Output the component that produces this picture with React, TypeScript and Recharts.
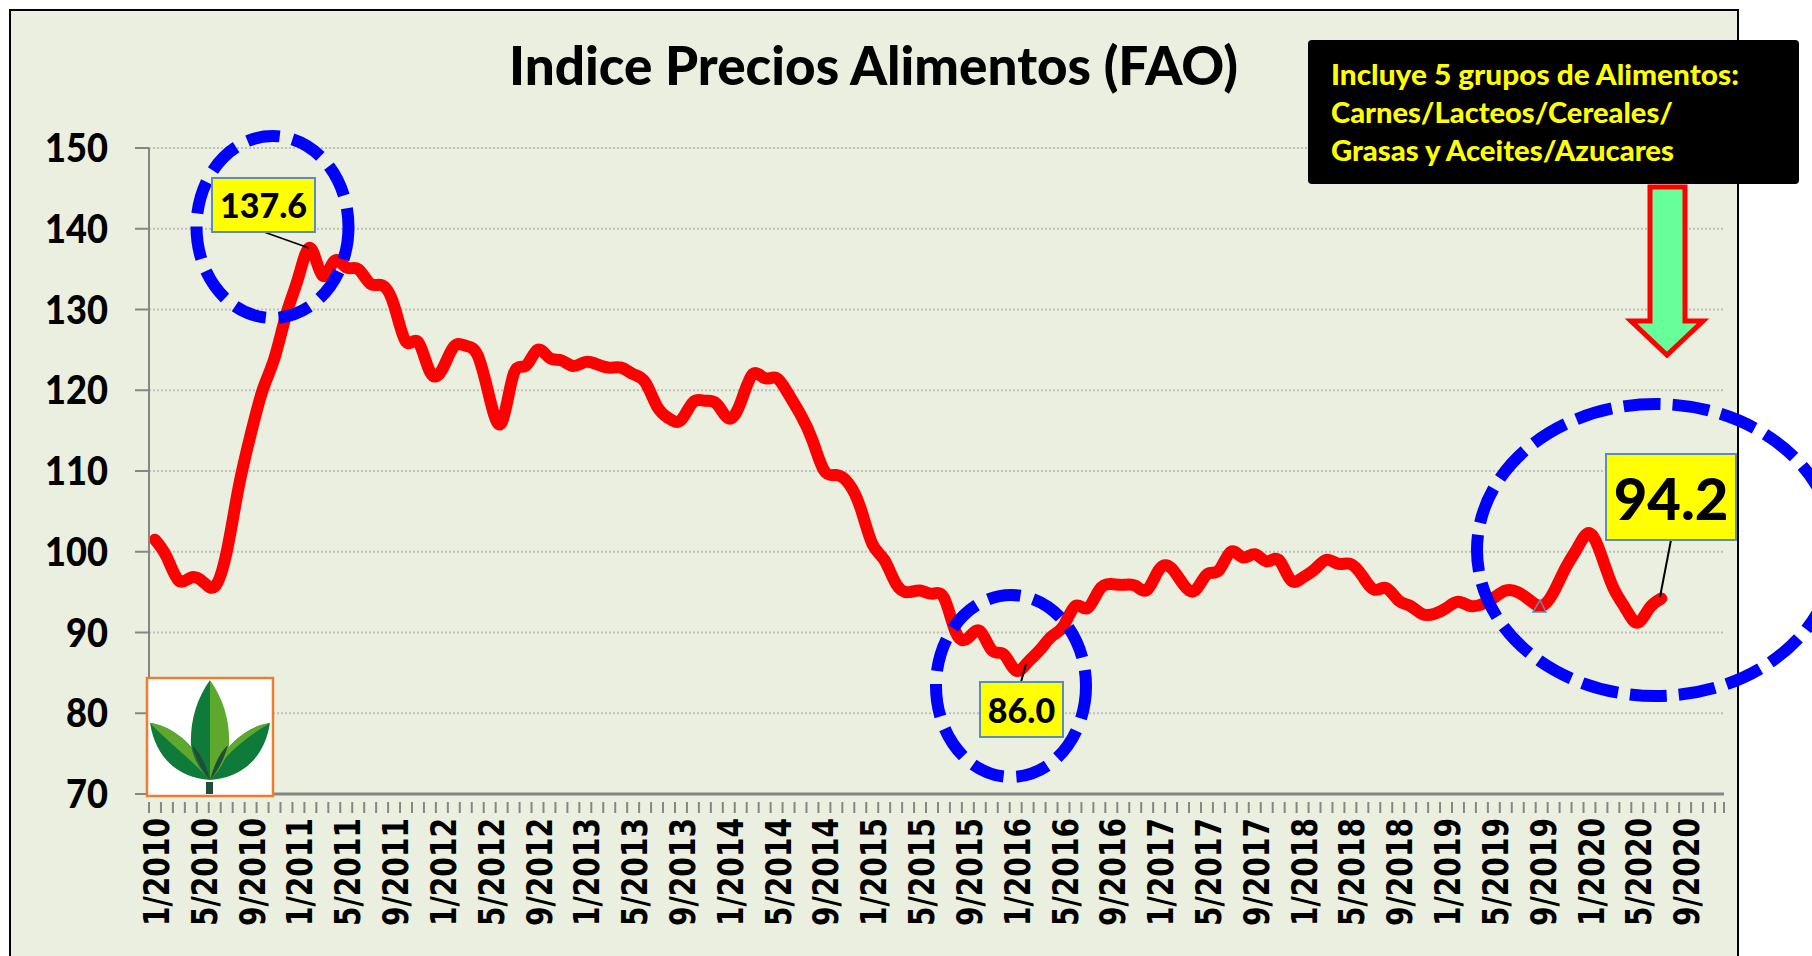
import { CartesianGrid, Line, LineChart, XAxis, YAxis } from "recharts";

const WIDTH = 1812;
const HEIGHT = 956;
const AXIS_GREY = "#868686";
const BLUE = "#0000FF";
const BOX_BORDER = "#5B8DB8";

const y2010 = [101.5, 99.3, 96.4, 96.8, 96.3, 95.7, 100, 108, 114.5, 120, 124, 129.5];
const y2011 = [134, 137.6, 134.2, 136, 135.2, 135, 133.2, 133, 130.5, 126, 126, 122.3];
const y2012 = [122.5, 125.4, 125.5, 124.3, 119, 116, 122, 123, 125, 124, 123.7, 123];
const y2013 = [123.5, 123.2, 122.8, 122.8, 122, 121, 118, 116.5, 116.3, 118.5, 118.7, 118.3];
const y2014 = [116.5, 118.5, 122, 121.5, 121.5, 119.5, 117, 113.8, 110, 109.5, 108.5, 105.5];
const y2015 = [101, 99, 96, 95, 95.2, 94.8, 94.3, 90, 89.3, 90.2, 87.8, 87.3];
const y2016 = [85.3, 86.3, 87.8, 89.5, 90.8, 93.3, 93, 95.3, 96, 95.9, 95.8, 95.3];
const y2017 = [97.8, 98, 96, 95.2, 97.2, 97.7, 100, 99.3, 99.7, 98.8, 99, 96.5];
const y2018 = [96.8, 97.8, 99, 98.5, 98.5, 97, 95.3, 95.5, 94, 93.3, 92.3, 92.3];
const y2019 = [93, 93.8, 93.3, 93.5, 94.3, 95.2, 95, 94, 93.3, 95, 98, 100.5];
const y2020 = [102.3, 99.5, 95.5, 93, 91.2, 93, 94.2];

const years = [2010, 2011, 2012, 2013, 2014, 2015, 2016, 2017, 2018, 2019, 2020];
const months = [1, 2, 3, 4, 5, 6, 7, 8, 9, 10, 11, 12];
const yTicks = [70, 80, 90, 100, 110, 120, 130, 140, 150];
const index = [...y2010, ...y2011, ...y2012, ...y2013, ...y2014, ...y2015, ...y2016, ...y2017, ...y2018, ...y2019, ...y2020];

// the axis runs on to the end of 2020, past the last value
const categories = years.flatMap((y) => months.map((m) => `${m}/${y}`));
const chartData = categories.map((date, i) => ({ date, index: i < index.length ? index[i] : null }));

function MonthTick({ x, y, payload, index: i }: any) {
  return (
    <g>
      <line x1={x - 6} x2={x - 6} y1={y} y2={y + 11} stroke={AXIS_GREY} strokeWidth={2} />
      {i === categories.length - 1 && (
        <line x1={x + 3} x2={x + 3} y1={y} y2={y + 11} stroke={AXIS_GREY} strokeWidth={2} />
      )}
      {i % 4 === 0 && i < 130 && (
        <text
          transform={`translate(${x + 14} 818) rotate(-90)`}
          textAnchor="end"
          fontFamily="DejaVu Sans"
          fontWeight={700}
          fontSize={36}
          textLength={108}
          lengthAdjust="spacingAndGlyphs"
          fill="#000"
        >
          {payload.value}
        </text>
      )}
    </g>
  );
}

function ValueTick({ x, y, payload }: any) {
  const label = String(payload.value);
  return (
    <text
      x={x}
      y={y + 14}
      textAnchor="end"
      fontFamily="Lato"
      fontWeight={900}
      fontSize={39}
      textLength={label.length * 21}
      lengthAdjust="spacingAndGlyphs"
      fill="#000"
    >
      {label}
    </text>
  );
}

function ValueBox({ x, y, w, h, label, size }: { x: number; y: number; w: number; h: number; label: string; size: number }) {
  return (
    <g>
      <rect x={x} y={y} width={w} height={h} fill="#FFFF00" stroke={BOX_BORDER} strokeWidth={2} />
      <text
        x={x + w / 2}
        y={y + h / 2 + size * 0.39}
        textAnchor="middle"
        fontFamily="Lato"
        fontWeight={900}
        fontSize={size}
        fill="#000"
      >
        {label}
      </text>
    </g>
  );
}

function Logo() {
  return (
    <g>
      <rect x={147} y={678} width={126} height={118} fill="#fff" stroke="#ED7D31" strokeWidth={2.5} />
      <path d="M150 723 C172 726 198 745 210 780 C180 778 156 760 150 723 Z" fill="#0F7B3A" />
      <path d="M150 723 C172 726 198 745 210 780 C192 760 168 742 150 723 Z" fill="#5FA82E" />
      <path d="M270 723 C248 726 222 745 210 780 C240 778 264 760 270 723 Z" fill="#0F7B3A" />
      <path d="M270 723 C248 726 222 745 210 780 C222 755 250 735 270 723 Z" fill="#5FA82E" />
      <path d="M210 680 C196 700 190 722 191 745 C193 760 202 772 210 780 Z" fill="#0F7B3A" />
      <path d="M210 680 C224 700 230 722 229 745 C227 760 218 772 210 780 Z" fill="#5FA82E" />
      <path d="M192 745 C196 760 203 772 210 780 C206 765 200 752 192 745 Z" fill="#1F4D38" />
      <path d="M228 745 C224 760 217 772 210 780 C214 765 220 752 228 745 Z" fill="#1F4D38" />
      <rect x={206} y={782} width={7} height={12} fill="#1F4D38" />
    </g>
  );
}

function Annotations() {
  return (
    <svg width={WIDTH} height={HEIGHT} style={{ position: "absolute", left: 0, top: 0 }}>
      <text x={509} y={85} fontFamily="Lato" fontWeight={900} fontSize={53} textLength={729} lengthAdjust="spacingAndGlyphs" fill="#000">
        Indice Precios Alimentos (FAO)
      </text>

      <Logo />

      <ellipse cx={272.5} cy={227} rx={76} ry={91} fill="none" stroke={BLUE} strokeWidth={12} strokeDasharray="33 13" />
      <ellipse cx={1011} cy={686} rx={75} ry={91} fill="none" stroke={BLUE} strokeWidth={12} strokeDasharray="33 13" />
      <ellipse cx={1656} cy={550} rx={179} ry={146} fill="none" stroke={BLUE} strokeWidth={12} strokeDasharray="37 12" />

      <line x1={264} y1={232} x2={309} y2={248} stroke="#000" strokeWidth={1.5} />
      <line x1={1026} y1={664} x2={1021} y2={682} stroke="#000" strokeWidth={2} />
      <line x1={1671} y1={540} x2={1660} y2={597} stroke="#000" strokeWidth={2} />

      <ValueBox x={212} y={178} w={103} h={54} label="137.6" size={34} />
      <ValueBox x={980} y={682} w={83} h={55} label="86.0" size={34} />
      <ValueBox x={1606} y={454} w={130} h={86} label="94.2" size={58} />

      <path d="M1540 600 L1546 612 L1533 612 Z" fill="#FF0000" stroke={BOX_BORDER} strokeWidth={1.5} />

      <rect x={1308} y={40} width={491} height={144} rx={4} fill="#000" />
      <g fontFamily="Lato" fontWeight={900} fontSize={28} fill="#FFFF00">
        <text x={1331} y={85} textLength={408} lengthAdjust="spacingAndGlyphs">Incluye 5 grupos de Alimentos:</text>
        <text x={1331} y={123} textLength={342} lengthAdjust="spacingAndGlyphs">Carnes/Lacteos/Cereales/</text>
        <text x={1331} y={161} textLength={343} lengthAdjust="spacingAndGlyphs">Grasas y Aceites/Azucares</text>
      </g>

      <path
        d="M1650 187 L1685 187 L1685 321 L1703 321 L1667 355 L1631 321 L1650 321 Z"
        fill="#66FF99"
        stroke="#FF0000"
        strokeWidth={5}
      />
    </svg>
  );
}

export default function App() {
  return (
    <div style={{ position: "absolute", left: 0, top: 0, width: WIDTH, height: HEIGHT, overflow: "hidden", background: "#fff" }}>
      <div
        style={{
          position: "absolute",
          left: 9,
          top: 9,
          width: 1726,
          height: 980,
          background: "#EAEFDF",
          border: "2.5px solid #000",
        }}
      />
      <div style={{ position: "absolute", left: 0, top: 0 }}>
        <LineChart width={WIDTH} height={HEIGHT} data={chartData} margin={{ top: 148, right: 88, bottom: 0, left: 0 }}>
          <CartesianGrid vertical={false} stroke="#BFBFBF" strokeWidth={2} strokeDasharray="2 2" />
          <XAxis
            dataKey="date"
            interval={0}
            height={162}
            padding={{ left: 6, right: 3 }}
            tick={<MonthTick />}
            tickLine={false}
            axisLine={{ stroke: AXIS_GREY, strokeWidth: 3 }}
          />
          <YAxis
            width={149}
            domain={[70, 150]}
            ticks={yTicks}
            tickSize={14}
            tickMargin={27}
            interval={0}
            tick={<ValueTick />}
            tickLine={{ stroke: AXIS_GREY, strokeWidth: 2 }}
            axisLine={{ stroke: AXIS_GREY, strokeWidth: 2 }}
          />
          <Line
            type="natural"
            dataKey="index"
            stroke="#FF0000"
            strokeWidth={12}
            strokeLinecap="round"
            strokeLinejoin="round"
            dot={false}
            isAnimationActive={false}
          />
        </LineChart>
      </div>
      <Annotations />
    </div>
  );
}
